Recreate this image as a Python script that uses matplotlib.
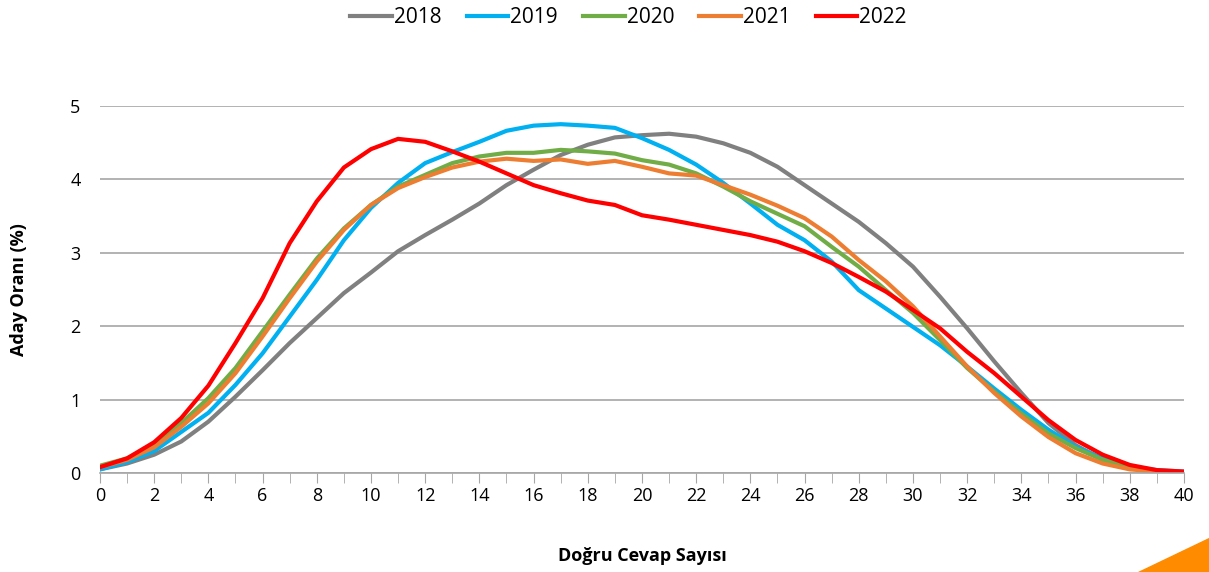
import numpy as np
import matplotlib
matplotlib.use("Agg")
import matplotlib.pyplot as plt
from matplotlib.patches import Polygon

plt.rcParams['font.family'] = ['Open Sans', 'DejaVu Sans']

correct = list(range(41))
years = ['2018', '2019', '2020', '2021', '2022']

share_2018 = [0.05, 0.13, 0.25, 0.43, 0.70, 1.04, 1.40, 1.77, 2.11, 2.45,
              2.73, 3.02, 3.24, 3.45, 3.67, 3.92, 4.13, 4.33, 4.47, 4.57,
              4.60, 4.62, 4.58, 4.49, 4.36, 4.17, 3.92, 3.67, 3.42, 3.13,
              2.81, 2.40, 1.97, 1.52, 1.09, 0.68, 0.38, 0.18, 0.07, 0.02, 0.01]
share_2019 = [0.05, 0.15, 0.30, 0.56, 0.82, 1.20, 1.63, 2.13, 2.63, 3.17,
              3.61, 3.95, 4.22, 4.37, 4.51, 4.66, 4.73, 4.75, 4.73, 4.70,
              4.56, 4.40, 4.20, 3.95, 3.67, 3.38, 3.17, 2.88, 2.49, 2.24,
              1.99, 1.74, 1.45, 1.15, 0.86, 0.59, 0.36, 0.20, 0.09, 0.04, 0.02]
share_2020 = [0.10, 0.20, 0.38, 0.68, 1.02, 1.43, 1.93, 2.43, 2.92, 3.33,
              3.65, 3.90, 4.06, 4.22, 4.31, 4.36, 4.36, 4.40, 4.38, 4.35,
              4.26, 4.20, 4.08, 3.90, 3.70, 3.53, 3.36, 3.08, 2.81, 2.49,
              2.18, 1.81, 1.43, 1.11, 0.81, 0.54, 0.34, 0.18, 0.08, 0.03, 0.01]
share_2021 = [0.08, 0.18, 0.35, 0.63, 0.95, 1.36, 1.86, 2.38, 2.88, 3.31,
              3.65, 3.88, 4.03, 4.16, 4.24, 4.28, 4.25, 4.27, 4.21, 4.25,
              4.17, 4.08, 4.05, 3.92, 3.79, 3.64, 3.47, 3.22, 2.90, 2.61,
              2.27, 1.86, 1.45, 1.09, 0.77, 0.49, 0.27, 0.13, 0.05, 0.02, 0.01]
share_2022 = [0.08, 0.20, 0.42, 0.75, 1.19, 1.77, 2.38, 3.13, 3.70, 4.16,
              4.41, 4.55, 4.51, 4.38, 4.24, 4.08, 3.92, 3.81, 3.71, 3.65,
              3.51, 3.45, 3.38, 3.31, 3.24, 3.15, 3.02, 2.86, 2.67, 2.47,
              2.22, 1.97, 1.65, 1.36, 1.04, 0.72, 0.45, 0.25, 0.11, 0.04, 0.02]

series = [share_2018, share_2019, share_2020, share_2021, share_2022]
colors = ['#808080', '#00B0F0', '#70AD47', '#ED7D31', '#FF0000']

fig = plt.figure(figsize=(12.09, 5.72), dpi=100)
ax = fig.add_axes([0.0827, 0.173, 0.8966, 0.642])

for yr, vals, c in zip(years, series, colors):
    ax.plot(correct, vals, color=c, lw=3.0, label=yr, solid_joinstyle='round')

ax.set_xlim(0, 40)
ax.set_ylim(0, 5)
ax.set_xticks(range(0, 41, 2))
ax.set_xticks(range(0, 41), minor=True)
ax.set_yticks(range(0, 6))
ax.grid(axis='y', color='#A6A6A6', lw=1.2)
ax.set_axisbelow(True)
for s in ['top', 'right', 'left']:
    ax.spines[s].set_visible(False)
ax.spines['bottom'].set_color('#A6A6A6')
ax.spines['bottom'].set_linewidth(1.2)
ax.tick_params(axis='x', which='both', direction='out', length=7, color='#A6A6A6',
               labelsize=13, pad=3)
ax.tick_params(axis='y', length=0, labelsize=13, pad=14)

ax.set_xlabel('Doğru Cevap Sayısı', fontsize=13, fontweight='bold', labelpad=30)
ax.set_ylabel('Aday Oranı (%)', fontsize=13, fontweight='bold', labelpad=30)

fig.legend(loc='upper center', bbox_to_anchor=(0.52, 1.02), ncol=5, frameon=False,
           fontsize=15, handlelength=2.0, handletextpad=0.1, columnspacing=1.2)

# decorative corner triangle
fig.patches.append(Polygon([(1138 / 1209, 0), (1, 0), (1, 34 / 572)], closed=True,
                           transform=fig.transFigure, color='#FF8C00', zorder=0))

fig.savefig('out.png', dpi=100)
